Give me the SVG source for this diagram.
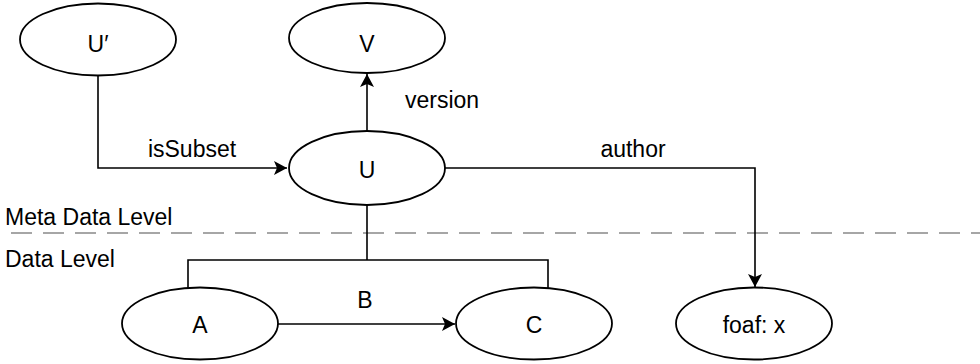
<svg xmlns="http://www.w3.org/2000/svg" width="980" height="364" viewBox="0 0 980 364">
<style>
.n{fill:#fff;stroke:#000;stroke-width:1.8}
.t{font-family:"Liberation Sans",Arial,sans-serif;font-size:23px;fill:#000}
.c{text-anchor:middle}
.e{fill:none;stroke:#000;stroke-width:1.6}
.d{stroke:#a6a6a6;stroke-width:2;stroke-dasharray:21 11;fill:none}
</style>
<defs>
<marker id="ah" markerUnits="userSpaceOnUse" markerWidth="14" markerHeight="14" refX="13" refY="7" orient="auto">
<path d="M0,0 L13,7 L0,14 L3,7 Z" fill="#000"/>
</marker>
</defs>
<path class="d" d="M11,233 H980"/>
<text class="t" x="5" y="225">Meta Data Level</text>
<text class="t" x="5" y="267">Data Level</text>
<g id="connectors">
<path class="e" d="M98,76 V168 H287" marker-end="url(#ah)"/>
<path class="e" d="M367,131 V74" marker-end="url(#ah)"/>
<path class="e" d="M445,168 H755 V287" marker-end="url(#ah)"/>
<path class="e" d="M367,205 V260 M188,288 V260 H548 V288"/>
<path class="e" d="M278,324 H455" marker-end="url(#ah)"/>
<text class="t c" x="192" y="157">isSubset</text>
<text class="t" x="405" y="108">version</text>
<text class="t c" x="633" y="157">author</text>
<text class="t c" x="365" y="308">B</text>
</g>
<g id="Uprime"><ellipse class="n" cx="98" cy="39.5" rx="78" ry="36"/><text class="t c" x="98" y="52">U′</text></g>
<g id="V"><ellipse class="n" cx="367" cy="38" rx="78" ry="35"/><text class="t c" x="367" y="52">V</text></g>
<g id="U"><ellipse class="n" cx="367" cy="168" rx="78" ry="37"/><text class="t c" x="367" y="178">U</text></g>
<g id="A"><ellipse class="n" cx="200" cy="323.5" rx="78" ry="36"/><text class="t c" x="200" y="333">A</text></g>
<g id="C"><ellipse class="n" cx="534" cy="323.5" rx="78" ry="36"/><text class="t c" x="534" y="333">C</text></g>
<g id="foafx"><ellipse class="n" cx="754" cy="323.5" rx="78" ry="36"/><text class="t c" x="754" y="333">foaf: x</text></g>
</svg>
